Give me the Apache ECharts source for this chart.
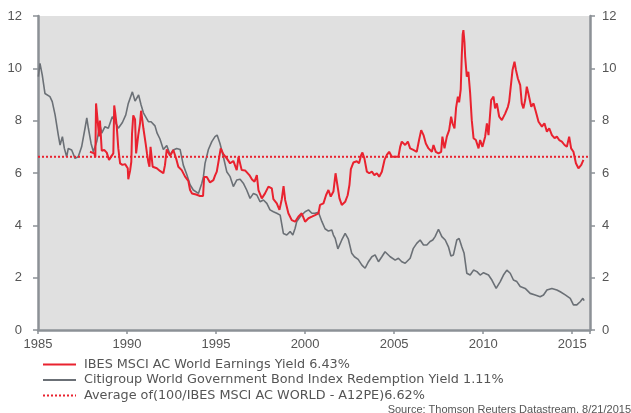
<!DOCTYPE html>
<html>
<head>
<meta charset="utf-8">
<script src="https://cdn.jsdelivr.net/npm/echarts@6/dist/echarts.min.js"></script>
<style>
  html, body { margin: 0; padding: 0; background: #fff; }
  #chart { width: 631px; height: 413px; }
</style>
</head>
<body>
<div id="chart"></div>
<script>
// series names
const earningsName = 'IBES MSCI AC World Earnings Yield 6.43%';
const bondName = 'Citigroup World Government Bond Index Redemption Yield 1.11%';
const avgName = 'Average of(100/IBES MSCI AC WORLD - A12PE)6.62%';

// IBES earnings yield (decimal year, %)
const earningsYears = [
  1987.92, 1988.16, 1988.22, 1988.26, 1988.35, 1988.43, 1988.48, 1988.58, 1988.72, 1988.86,
  1988.99, 1989.10, 1989.23, 1989.28, 1989.33, 1989.42, 1989.51, 1989.61, 1989.74, 1989.89,
  1990.04, 1990.07, 1990.17, 1990.24, 1990.28, 1990.35, 1990.45, 1990.51, 1990.63, 1990.73,
  1990.79, 1990.92, 1991.05, 1991.12, 1991.20, 1991.26, 1991.32, 1991.39, 1991.44, 1991.67,
  1991.85, 1992.04, 1992.13, 1992.23, 1992.42, 1992.60, 1992.78, 1992.88, 1993.07, 1993.26,
  1993.44, 1993.54, 1993.65, 1993.88, 1994.10, 1994.27, 1994.33, 1994.48, 1994.66, 1994.85,
  1994.94, 1995.04, 1995.14, 1995.26, 1995.41, 1995.60, 1995.79, 1995.97, 1996.16, 1996.26,
  1996.35, 1996.44, 1996.63, 1996.87, 1997.02, 1997.16, 1997.29, 1997.38, 1997.57, 1997.75,
  1997.94, 1998.13, 1998.22, 1998.41, 1998.56, 1998.69, 1998.79, 1998.88, 1999.06, 1999.25,
  1999.44, 1999.62, 1999.81, 2000.00, 2000.19, 2000.38, 2000.56, 2000.75, 2000.84, 2001.03,
  2001.18, 2001.31, 2001.44, 2001.59, 2001.71, 2001.81, 2001.93, 2002.06, 2002.25, 2002.39,
  2002.49, 2002.57, 2002.71, 2002.90, 2003.03, 2003.15, 2003.22, 2003.33, 2003.47, 2003.60,
  2003.75, 2003.89, 2004.03, 2004.16, 2004.31, 2004.46, 2004.59, 2004.72, 2004.87, 2005.06,
  2005.24, 2005.34, 2005.43, 2005.62, 2005.77, 2005.90, 2006.08, 2006.27, 2006.40, 2006.52,
  2006.65, 2006.78, 2006.93, 2007.12, 2007.21, 2007.34, 2007.49, 2007.64, 2007.71, 2007.83,
  2007.96, 2008.09, 2008.20, 2008.28, 2008.39, 2008.48, 2008.58, 2008.65, 2008.74, 2008.80,
  2008.85, 2008.89, 2008.95, 2008.99, 2009.08, 2009.17, 2009.27, 2009.36, 2009.46, 2009.59,
  2009.74, 2009.83, 2009.96, 2010.11, 2010.21, 2010.30, 2010.45, 2010.58, 2010.67, 2010.77,
  2010.90, 2011.05, 2011.24, 2011.39, 2011.46, 2011.57, 2011.65, 2011.76, 2011.84, 2011.95,
  2012.08, 2012.17, 2012.26, 2012.36, 2012.45, 2012.54, 2012.70, 2012.83, 2012.96, 2013.11,
  2013.30, 2013.44, 2013.58, 2013.71, 2013.86, 2014.01, 2014.14, 2014.27, 2014.42, 2014.57,
  2014.70, 2014.83, 2014.94, 2015.07, 2015.21, 2015.35, 2015.51, 2015.63
];
const earningsYield = [
  6.81, 6.75, 6.60, 8.66, 8.70, 7.40, 8.00, 6.85, 6.88, 6.78,
  6.50, 6.43, 6.75, 8.58, 8.34, 7.80, 6.94, 6.37, 6.31, 6.34,
  6.18, 5.76, 6.08, 6.43, 7.50, 8.20, 8.05, 6.75, 7.45, 7.90,
  8.38, 7.70, 7.10, 6.75, 6.40, 6.24, 7.00, 7.07, 6.24, 6.18,
  6.08, 5.99, 6.30, 6.90, 6.66, 6.88, 6.50, 6.24, 6.11, 5.86,
  5.70, 5.35, 5.22, 5.18, 5.12, 5.12, 5.85, 5.85, 5.64, 5.73,
  5.90, 6.05, 6.45, 6.94, 6.72, 6.56, 6.37, 6.46, 6.11, 6.62,
  6.56, 6.11, 6.10, 5.92, 5.75, 5.67, 5.92, 5.35, 5.03, 5.22,
  5.48, 5.41, 5.00, 4.84, 4.59, 5.00, 5.50, 4.97, 4.46, 4.20,
  4.14, 4.33, 4.46, 4.14, 4.27, 4.33, 4.39, 4.46, 4.78, 4.84,
  5.16, 5.35, 5.10, 5.29, 5.99, 5.99, 5.03, 4.78, 4.90, 5.15,
  5.54, 6.15, 6.40, 6.45, 6.37, 6.69, 6.78, 6.56, 6.05, 5.99,
  6.05, 5.92, 5.99, 5.86, 6.05, 6.50, 6.69, 6.81, 6.62, 6.62,
  6.62, 7.00, 7.20, 7.07, 7.20, 6.94, 6.88, 6.81, 7.26, 7.64,
  7.45, 7.13, 6.94, 6.81, 7.07, 6.81, 6.75, 6.81, 7.39, 6.94,
  7.39, 7.64, 8.15, 7.90, 7.70, 8.50, 8.92, 8.70, 9.20, 10.50,
  11.30, 11.46, 11.00, 10.44, 9.68, 9.87, 9.04, 8.02, 7.33, 7.26,
  6.94, 7.26, 7.00, 7.39, 7.90, 7.45, 8.79, 8.92, 8.47, 8.66,
  8.15, 8.02, 8.28, 8.53, 8.73, 8.66, 9.94, 10.25, 9.94, 9.61,
  9.36, 8.66, 8.47, 8.79, 9.30, 9.04, 8.53, 8.66, 8.34, 7.96,
  7.77, 7.90, 7.58, 7.71, 7.45, 7.33, 7.39, 7.26, 7.20, 7.07,
  7.00, 7.39, 6.94, 6.81, 6.37, 6.18, 6.31, 6.50
];

// Citigroup WGBI redemption yield (decimal year, %)
const bondYears = [
  1985.02, 1985.11, 1985.24, 1985.39, 1985.67, 1985.80, 1985.96, 1986.14, 1986.24, 1986.37,
  1986.48, 1986.61, 1986.70, 1986.89, 1987.08, 1987.26, 1987.45, 1987.64, 1987.74, 1987.83,
  1987.98, 1988.11, 1988.30, 1988.48, 1988.58, 1988.76, 1988.95, 1989.17, 1989.33, 1989.51,
  1989.74, 1989.93, 1990.07, 1990.30, 1990.45, 1990.65, 1990.79, 1990.92, 1991.20, 1991.35,
  1991.57, 1991.69, 1991.85, 1992.04, 1992.23, 1992.42, 1992.60, 1992.79, 1992.98, 1993.16,
  1993.35, 1993.54, 1993.72, 1994.01, 1994.20, 1994.29, 1994.38, 1994.57, 1994.76, 1994.94,
  1995.06, 1995.22, 1995.41, 1995.60, 1995.79, 1995.97, 1996.16, 1996.35, 1996.53, 1996.72,
  1996.91, 1997.10, 1997.29, 1997.47, 1997.66, 1997.85, 1998.03, 1998.22, 1998.41, 1998.60,
  1998.78, 1998.97, 1999.16, 1999.31, 1999.44, 1999.53, 1999.72, 2000.00, 2000.19, 2000.38,
  2000.56, 2000.75, 2000.94, 2001.12, 2001.31, 2001.50, 2001.59, 2001.69, 2001.84, 2002.06,
  2002.25, 2002.43, 2002.62, 2002.77, 2002.98, 2003.19, 2003.37, 2003.56, 2003.75, 2003.93,
  2004.12, 2004.31, 2004.49, 2004.78, 2005.06, 2005.24, 2005.43, 2005.62, 2005.90, 2006.08,
  2006.27, 2006.46, 2006.65, 2006.84, 2007.02, 2007.17, 2007.30, 2007.49, 2007.68, 2007.87,
  2008.05, 2008.19, 2008.33, 2008.52, 2008.65, 2008.80, 2008.93, 2009.08, 2009.27, 2009.46,
  2009.65, 2009.83, 2010.02, 2010.30, 2010.49, 2010.73, 2010.96, 2011.14, 2011.33, 2011.52,
  2011.70, 2011.89, 2012.08, 2012.36, 2012.64, 2012.92, 2013.20, 2013.39, 2013.58, 2013.86,
  2014.14, 2014.33, 2014.61, 2014.89, 2015.07, 2015.26, 2015.45, 2015.60, 2015.67
];
const bondYield = [
  9.68, 10.19, 9.74, 9.04, 8.92, 8.73, 8.22, 7.45, 7.07, 7.39,
  6.94, 6.62, 6.94, 6.88, 6.56, 6.62, 7.00, 7.71, 8.11, 7.71,
  7.13, 6.81, 7.20, 7.83, 7.52, 7.77, 7.71, 8.15, 7.96, 7.71,
  7.93, 8.22, 8.66, 9.10, 8.75, 8.98, 8.60, 8.30, 7.96, 7.96,
  7.80, 7.52, 7.30, 6.90, 7.05, 6.70, 6.88, 6.94, 6.90, 6.30,
  5.95, 5.55, 5.35, 5.22, 5.61, 5.86, 6.37, 6.90, 7.20, 7.39,
  7.45, 7.13, 6.62, 6.05, 5.86, 5.48, 5.73, 5.76, 5.61, 5.35,
  5.03, 5.22, 5.16, 4.90, 4.97, 4.84, 4.59, 4.52, 4.46, 4.39,
  3.69, 3.63, 3.76, 3.63, 3.89, 4.14, 4.33, 4.52, 4.59, 4.46,
  4.46, 4.50, 4.15, 3.87, 3.78, 3.82, 3.63, 3.50, 3.10, 3.44,
  3.69, 3.47, 2.93, 2.80, 2.70, 2.48, 2.36, 2.61, 2.80, 2.87,
  2.61, 2.80, 2.99, 2.80, 2.67, 2.74, 2.61, 2.55, 2.74, 3.12,
  3.31, 3.44, 3.25, 3.25, 3.38, 3.44, 3.57, 3.85, 3.57, 3.44,
  3.18, 2.83, 2.87, 3.44, 3.50, 3.18, 2.93, 2.17, 2.10, 2.29,
  2.23, 2.10, 2.19, 2.10, 1.91, 1.59, 1.85, 2.10, 2.29, 2.17,
  1.91, 1.85, 1.66, 1.59, 1.40, 1.34, 1.27, 1.34, 1.53, 1.59,
  1.53, 1.46, 1.34, 1.21, 0.96, 0.96, 1.08, 1.21, 1.12
];

// long-run average earnings yield
const avgYears = [1985, 2016];
const avgValue = 6.62;

// axes
const xMin = 1985;
const xMax = 2016;
const yTicks = [0, 2, 4, 6, 8, 10, 12];

const axisColor = '#8c9196';
const labelColor = '#555';
const redColor = '#e9222f';
const greyColor = '#6b7076';
const fontMain = 'Liberation Sans, Arial, sans-serif';

function pairs(xs, ys) {
    return xs.map((x, i) => [x, ys[i]]);
}

function makeYAxis(pos) {
    return {
        type: 'value',
        position: pos,
        min: yTicks[0],
        max: yTicks[yTicks.length - 1],
        interval: 2,
        axisLine: { show: true, lineStyle: { color: axisColor, width: 2.5 } },
        axisTick: { show: true, length: 5, lineStyle: { color: axisColor, width: 1.5 } },
        axisLabel: { color: labelColor, fontSize: 13, margin: pos === 'left' ? 16 : 12 },
        splitLine: { show: false }
    };
}

var myChart = echarts.init(document.getElementById('chart'), null, { renderer: 'canvas' });

var option = {
    animation: false,
    textStyle: { fontFamily: fontMain },
    grid: {
        left: 38, right: 41, top: 16, bottom: 83,
        show: true, backgroundColor: '#e0e0e0', borderWidth: 0
    },
    xAxis: {
        type: 'value',
        min: xMin,
        max: xMax,
        interval: 5,
        axisLine: { show: true, lineStyle: { color: axisColor, width: 2.5 } },
        axisTick: { show: true, length: 4, lineStyle: { color: axisColor, width: 1.5 } },
        axisLabel: {
            color: labelColor, fontSize: 13, margin: 8,
            formatter: v => (v % 5 === 0 ? String(v) : '')
        },
        splitLine: { show: false }
    },
    yAxis: [makeYAxis('left'), makeYAxis('right')],
    legend: {
        orient: 'vertical',
        left: 37,
        top: 353,
        itemWidth: 33,
        itemHeight: 10,
        itemGap: 2.5,
        data: [earningsName, bondName, avgName],
        itemStyle: { opacity: 0 },
        textStyle: {
            color: '#555', fontSize: 12.8, padding: [0, 0, 0, 3],
            fontFamily: 'DejaVu Sans, sans-serif'
        }
    },
    graphic: [{
        type: 'text',
        right: 0,
        top: 404,
        style: {
            text: 'Source: Thomson Reuters Datastream, 8/21/2015',
            fontSize: 11,
            fill: '#555',
            fontFamily: fontMain
        }
    }],
    series: [
        {
            name: avgName,
            type: 'line',
            symbol: 'none',
            data: avgYears.map(x => [x, avgValue]),
            lineStyle: { color: redColor, width: 2, type: [2, 2] },
            itemStyle: { color: redColor },
            z: 3
        },
        {
            name: bondName,
            type: 'line',
            symbol: 'none',
            data: pairs(bondYears, bondYield),
            lineStyle: { color: greyColor, width: 1.6 },
            itemStyle: { color: greyColor },
            z: 2
        },
        {
            name: earningsName,
            type: 'line',
            symbol: 'none',
            data: pairs(earningsYears, earningsYield),
            lineStyle: { color: redColor, width: 2 },
            itemStyle: { color: redColor },
            z: 4
        }
    ]
};

window.addEventListener('resize', function () {
    myChart.resize();
});
myChart.setOption(option);
</script>
</body>
</html>
